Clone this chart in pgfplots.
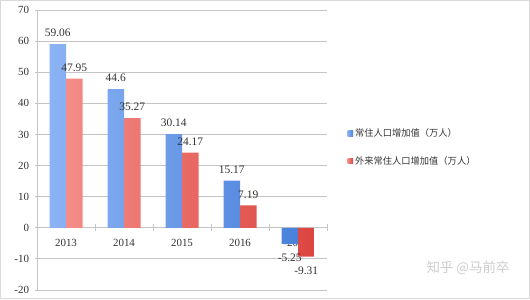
\documentclass[border=0pt]{standalone}
\usepackage{pgfplots}
\pgfplotsset{compat=1.18}
\usepackage{fontspec}
\setmainfont{Liberation Serif}
\newfontfamily\cjk{Noto Sans CJK SC}
\definecolor{bluebarL}{HTML}{8BB3F4}
\definecolor{bluebarR}{HTML}{4A81DA}
\definecolor{redbarL}{HTML}{F48C87}
\definecolor{redbarR}{HTML}{DC4540}
\definecolor{gridgray}{HTML}{C4C4C4}
\definecolor{txt}{HTML}{333333}
\pgfplotsset{
  layers/labelstop/.define layer set={
    axis background,axis grid,axis ticks,axis lines,pre main,main,axis tick labels,axis descriptions,axis foreground
  }{}
}
\newcommand{\neglab}[1]{\raisebox{-25bp}[0pt][0pt]{#1}}
\begin{document}
\begin{tikzpicture}[x=1bp,y=1bp]
\draw[gray!30, line width=1.2bp] (0.6,0.6) rectangle (529.4,298.4);
\begin{axis}[
  set layers=labelstop,
  at={(37bp,9bp)}, anchor=south west,
  scale only axis, width=290bp, height=280bp,
  ybar=0pt, bar width=16.5bp,
  xmin=-0.5, xmax=4.5, ymin=-20, ymax=70,
  ytick={-20,-10,...,70},
  xtick={0,...,4}, xticklabels={2013,2014,2015,2016,2017},
  minor xtick={0.5,1.5,2.5,3.5,4.5},
  axis x line=middle, axis y line=left,
  axis line style={-, draw=gridgray, line width=0.8bp},
  hide obscured x ticks=false, hide obscured y ticks=false,
  ymajorgrids, grid style={gridgray, line width=0.8bp},
  major x tick style={draw=none},
  minor x tick style={draw=gridgray, line width=0.8bp},
  minor tick length=7bp,
  y tick style={draw=gridgray, line width=0.8bp},
  major tick length=5bp,
  tick align=center,
  /pgf/number format/assume math mode=true,
  tick label style={font=\fontsize{11}{13}\selectfont, text=txt},
  xticklabel style={yshift=-5bp},
  yticklabel style={xshift=-2bp},
  point meta=explicit symbolic,
  nodes near coords,
  every node near coord/.append style={font=\fontsize{11.5}{13}\selectfont, text=txt, inner ysep=7bp},
  legend image code/.code={\fill[#1] (0bp,-2.8bp) rectangle (5.5bp,2.8bp);},
  legend style={draw=none, fill=none, at={(1.06,0.51)}, anchor=west,
    font=\cjk\fontsize{9.3}{11}\selectfont, text=txt, row sep=14bp,
    /tikz/every even column/.append style={column sep=3bp}},
  legend cell align=left,
  clip=false,
]
\addplot[draw=none, left color=bluebarL, right color=bluebarR]
  coordinates {(0,59.06) [59.06] (1,44.6) [44.6] (2,30.14) [30.14] (3,15.17) [15.17] (4,-5.25) [\neglab{-5.25}]};
\addplot[draw=none, left color=redbarL, right color=redbarR]
  coordinates {(0,47.95) [47.95] (1,35.27) [35.27] (2,24.17) [24.17] (3,7.19) [7.19] (4,-9.31) [\neglab{-9.31}]};
\legend{常住人口增加值（万人）, 外来常住人口增加值（万人）}
\end{axis}
\node[font=\cjk\fontsize{13.5}{15}\selectfont, text=gray!40] at (468,31) {知乎 @马前卒};
\end{tikzpicture}
\end{document}
